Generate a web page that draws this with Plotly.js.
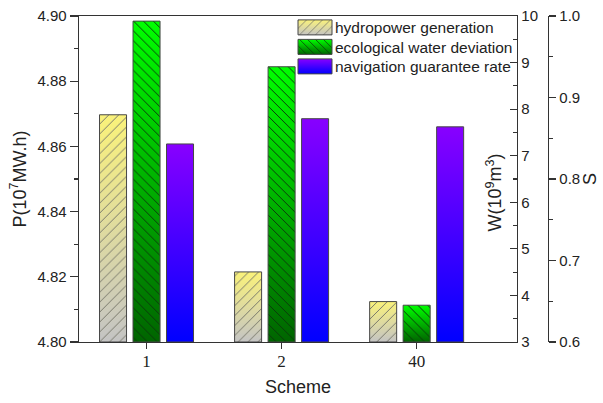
<!DOCTYPE html>
<html>
<head>
<meta charset="utf-8">
<script src="https://cdn.plot.ly/plotly-3.0.1.min.js"></script>
<style>
html,body{margin:0;padding:0;background:#fff;}
#chart{width:603px;height:403px;}
</style>
</head>
<body>
<div id="chart"></div>
<script>
// ---- data ----
var schemes = ['1', '2', '40'];
var hydropower = [4.8697, 4.8215, 4.8124];       // P (10^7 MW.h), left axis
var ecoWater = [9.89, 8.91, 3.79];               // W (10^9 m^3), inner right axis
var navigation = [0.843, 0.874, 0.864];          // S, outer right axis
var seriesNames = ['hydropower generation', 'ecological water deviation', 'navigation guarantee rate'];
var pTicks = [4.80, 4.82, 4.84, 4.86, 4.88, 4.90];
var wTicks = [3, 4, 5, 6, 7, 8, 9, 10];
var sTicks = [0.6, 0.7, 0.8, 0.9, 1.0];
// bars rise from the bottom of each axis
var pBase = 4.80, wBase = 3, sBase = 0.6;

var gradients = [
  {id: 'gradY', top: '#faf27a', bottom: '#c4c4c4'},
  {id: 'gradG', top: '#00ff00', bottom: '#006400'},
  {id: 'gradB', top: '#8800ff', bottom: '#0000ff'}
];

var outline = {color: '#474747', width: 1};
var axisColor = '#333333';
var fontFam = 'Arial, "Liberation Sans", sans-serif';

function heights(vals, base) { return vals.map(function (v) { return v - base; }); }

var data = [
  {
    type: 'bar', name: seriesNames[0], x: schemes, y: heights(hydropower, pBase), base: pBase,
    xaxis: 'x', yaxis: 'y', width: 0.2, offset: -0.348,
    marker: {color: 'rgba(0,0,0,0)', line: outline,
      pattern: {shape: '/', fgcolor: '#77776a', bgcolor: 'rgba(0,0,0,0)', size: 7, solidity: 0.14, fillmode: 'replace'}}
  },
  {
    type: 'bar', name: seriesNames[1], x: schemes, y: heights(ecoWater, wBase), base: wBase,
    xaxis: 'x', yaxis: 'y2', width: 0.2, offset: -0.1,
    marker: {color: 'rgba(0,0,0,0)', line: outline,
      pattern: {shape: '\\', fgcolor: '#0b3a0b', bgcolor: 'rgba(0,0,0,0)', size: 7, solidity: 0.14, fillmode: 'replace'}}
  },
  {
    type: 'bar', name: seriesNames[2], x: schemes, y: heights(navigation, sBase), base: sBase,
    xaxis: 'x', yaxis: 'y3', width: 0.2, offset: 0.148,
    marker: {color: 'rgba(0,0,0,0)', line: outline}
  }
];

var L = 79, R = 20, T = 15, B = 61, W = 603, H = 403;
var paperW = W - L - R;
var paperH = H - T - B;
var plotRight = 517;
var sAxisX = 548;

var commonY = {
  showgrid: false, zeroline: false, showline: true, linecolor: axisColor, linewidth: 1.3,
  tickcolor: axisColor, tickwidth: 1.2, tickfont: {family: fontFam, size: 15, color: '#222'}
};

var layout = {
  width: W, height: H,
  margin: {l: L, r: R, t: T, b: B, pad: 0},
  paper_bgcolor: '#fff', plot_bgcolor: 'rgba(0,0,0,0)',
  barmode: 'overlay',
  showlegend: true,
  legend: {
    x: (295 - L) / paperW, xanchor: 'left', y: 1 + 4.2 / paperH, yanchor: 'top',
    bgcolor: 'rgba(0,0,0,0)', borderwidth: 0, tracegroupgap: 0,
    font: {family: fontFam, size: 15.5, color: '#222'}
  },
  xaxis: {
    domain: [0, (plotRight - L) / paperW],
    type: 'category', categoryorder: 'array', categoryarray: schemes,
    range: [-0.5, 2.743],
    showgrid: false, zeroline: false, showline: true, mirror: true,
    linecolor: axisColor, linewidth: 1.3,
    ticks: 'outside', ticklen: 6, tickwidth: 1.2, tickcolor: axisColor,
    ticklabelstandoff: -3,
    tickfont: {family: '"Liberation Serif", "Times New Roman", serif', size: 17, color: '#222'},
    title: {text: 'Scheme', font: {family: fontFam, size: 18, color: '#222'}, standoff: 10}
  },
  yaxis: Object.assign({}, commonY, {
    range: [4.80, 4.90], tickmode: 'array', tickvals: pTicks, tickformat: '.2f',
    ticks: 'outside', ticklen: 8,
    minor: {dtick: 0.01, ticks: 'outside', ticklen: 4, tickcolor: axisColor, tickwidth: 1.2, showgrid: false},
    title: {text: 'P(10<sup>7</sup>MW.h)', font: {family: fontFam, size: 18, color: '#222'}, standoff: 6}
  }),
  yaxis2: Object.assign({}, commonY, {
    overlaying: 'y', side: 'right', anchor: 'x',
    range: [3, 10], tickmode: 'array', tickvals: wTicks,
    ticks: 'inside', ticklen: 7,
    minor: {dtick: 0.5, ticks: 'inside', ticklen: 4, tickcolor: axisColor, tickwidth: 1.2, showgrid: false}
  }),
  yaxis3: Object.assign({}, commonY, {
    overlaying: 'y', side: 'right', anchor: 'free', position: (sAxisX - L) / paperW,
    range: [0.6, 1.0], tickmode: 'array', tickvals: sTicks, tickformat: '.1f',
    ticks: 'outside', ticklen: 7,
    minor: {dtick: 0.05, ticks: 'outside', ticklen: 4, tickcolor: axisColor, tickwidth: 1.2, showgrid: false},
    title: {text: 'S', font: {family: fontFam, size: 18, color: '#222'}, standoff: 4}
  }),
  annotations: [
    {
      text: 'W(10<sup>9</sup>m<sup>3</sup>)', xref: 'paper', yref: 'paper',
      x: (494 - L) / paperW, y: (342 - 192) / paperH, xanchor: 'center', yanchor: 'middle',
      textangle: -90, showarrow: false, font: {family: fontFam, size: 18, color: '#222'}
    }
  ]
};

var gd = document.getElementById('chart');
var NS = 'http://www.w3.org/2000/svg';

function ensureDefs(svg) {
  if (svg.querySelector('#gradY')) return;
  var defs = document.createElementNS(NS, 'defs');
  gradients.forEach(function (g) {
    var lg = document.createElementNS(NS, 'linearGradient');
    lg.setAttribute('id', g.id);
    lg.setAttribute('x1', '0'); lg.setAttribute('y1', '0');
    lg.setAttribute('x2', '0'); lg.setAttribute('y2', '1');
    var s1 = document.createElementNS(NS, 'stop');
    s1.setAttribute('offset', '0'); s1.setAttribute('stop-color', g.top);
    var s2 = document.createElementNS(NS, 'stop');
    s2.setAttribute('offset', '1'); s2.setAttribute('stop-color', g.bottom);
    lg.appendChild(s1); lg.appendChild(s2);
    defs.appendChild(lg);
  });
  svg.insertBefore(defs, svg.firstChild);
}

function underlay(path, gradId) {
  var clone = path.cloneNode(true);
  clone.setAttribute('class', 'gradclone');
  clone.style.setProperty('fill', 'url(#' + gradId + ')');
  clone.style.setProperty('fill-opacity', '1');
  clone.style.setProperty('stroke', 'none');
  path.parentNode.insertBefore(clone, path);
}

function traceIndex(el) {
  var d = el.__data__;
  if (d && d[0] && d[0].trace) return d[0].trace.index;
  return null;
}

function decorate() {
  var svg = gd.querySelector('svg.main-svg');
  if (!svg) return;
  ensureDefs(svg);
  gd.querySelectorAll('.gradclone').forEach(function (c) { c.parentNode.removeChild(c); });
  // bars
  gd.querySelectorAll('.barlayer .trace').forEach(function (tr) {
    var idx = traceIndex(tr);
    if (idx === null) return;
    tr.querySelectorAll('.point path').forEach(function (p) {
      underlay(p, gradients[idx].id);
    });
  });
  // legend swatches and row spacing
  var items = gd.querySelectorAll('.legend .traces');
  var y0 = null;
  items.forEach(function (tr, i) {
    var idx = traceIndex(tr);
    var m = /translate\(\s*([-\d.]+)[ ,]+([-\d.]+)\s*\)/.exec(tr.getAttribute('transform') || '');
    if (m) {
      if (y0 === null) y0 = parseFloat(m[2]);
      tr.setAttribute('transform', 'translate(' + m[1] + ',' + (y0 + 19.5 * i) + ')');
    }
    if (idx === null) return;
    tr.querySelectorAll('.legendpoints path').forEach(function (p) {
      if (p.getAttribute('class') === 'gradclone') return;
      p.setAttribute('d', 'M17,7.5H-17V-7.5H17Z');
      underlay(p, gradients[idx].id);
    });
  });
}

Plotly.newPlot(gd, data, layout, {staticPlot: true, displayModeBar: false}).then(function () {
  decorate();
  gd.on('plotly_afterplot', decorate);
});
</script>
</body>
</html>
